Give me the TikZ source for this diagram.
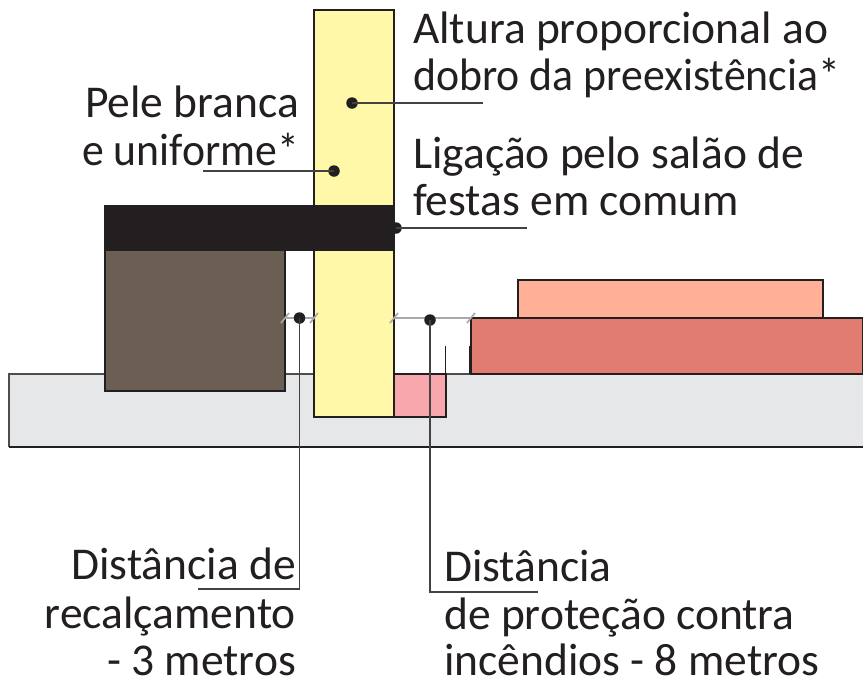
\documentclass[tikz,border=0pt]{standalone}
\usepackage{fontspec}
\setmainfont{Carlito}
\definecolor{inkc}{HTML}{231F20}
\definecolor{groundc}{HTML}{E6E7E8}
\definecolor{brownc}{HTML}{6B5F53}
\definecolor{yellowc}{HTML}{FFF8A8}
\definecolor{pinkc}{HTML}{F8A8AC}
\definecolor{redc}{HTML}{E07D70}
\definecolor{salmonc}{HTML}{FFB096}
\definecolor{dimc}{HTML}{A7A9AC}
\tikzset{
  block/.style={draw=inkc,line width=1.3pt},
  leader/.style={draw=inkc!85,line width=1.4pt},
  dim/.style={draw=dimc,line width=1.7pt},
  dotp/.style={circle,fill=inkc,inner sep=0pt,minimum size=11.5pt},
  lab/.style={font=\fontsize{45.5}{50}\selectfont,text=inkc,inner sep=0pt,anchor=base west},
  labr/.style={font=\fontsize{45.5}{50}\selectfont,text=inkc,inner sep=0pt,anchor=base east}
}
\begin{document}
\begin{tikzpicture}[x=1pt,y=-1pt]
\useasboundingbox (0,0) rectangle (863,681);
\fill[white] (0,0) rectangle (863,681);
% ground
\fill[groundc] (9,374) rectangle (863,447);
\draw[inkc!80,line width=1.2pt] (9,447) -- (9,374) -- (863,374);
\draw[inkc,line width=1.2pt] (9,447) -- (863,447);
% blocks
\path[block,fill=brownc] (105,250) rectangle (285,391);
\path[block,fill=yellowc] (314,10) rectangle (394,417);
\path[block,fill=pinkc] (394,374) rectangle (446,417);
\path[block,fill=redc] (471,318) rectangle (863,374);
\path[block,fill=salmonc] (518,280) rectangle (823,318);
\path[block,fill=inkc] (105,206) rectangle (394,250);
\draw[block] (445.5,346) -- (445.5,374);
\draw[block] (470,346) -- (470,374);
% dimension lines
\draw[dim] (285,318) -- (314,318);
\draw[dim] (394,318) -- (471,318);
\foreach \x in {285,314,394,471} \draw[dim] (\x-4,323) -- (\x+4,313);
% leaders
\node[dotp] (d1) at (352,103) {};
\node[dotp] (d2) at (334,171) {};
\node[dotp] (d3) at (396,228) {};
\node[dotp] (d4) at (299.5,318) {};
\node[dotp] (d5) at (430,320) {};
\coordinate (e1) at (483,103);
\coordinate (e2) at (203,171);
\coordinate (e3) at (527,228);
\coordinate (e4) at (198,589);
\coordinate (e5) at (538,592);
\draw[leader] (d1.center) -- (e1);
\draw[leader] (d2.center) -- (e2);
\draw[leader] (d3.center) -- (e3);
\draw[leader] (d4.center) |- (e4);
\draw[leader] (d5.center) |- (e5);
% labels
\node[lab] (t1) at (413,43) {Altura proporcional ao};
\node[lab] (t2) at (413,90) {\scalebox{0.962}[1]{dobro da preexistência*}};
\node[lab] (t3) at (413,168) {Ligação pelo salão de};
\node[lab] (t4) at (413,215) {festas em comum};
\node[labr] (t5) at (299,117) {Pele branca};
\node[labr] (t6) at (299,165) {\scalebox{0.96}[1]{e uniforme*}};
\node[labr] (t7) at (296,579) {Distância de};
\node[labr] (t8) at (296,628) {recalçamento};
\node[labr] (t9) at (296,675) {- 3 metros};
\node[lab] (t10) at (444,581) {Distância};
\node[lab] (t11) at (444,629) {de proteção contra};
\node[lab] (t12) at (444,675) {incêndios - 8 metros};
\end{tikzpicture}
\end{document}
